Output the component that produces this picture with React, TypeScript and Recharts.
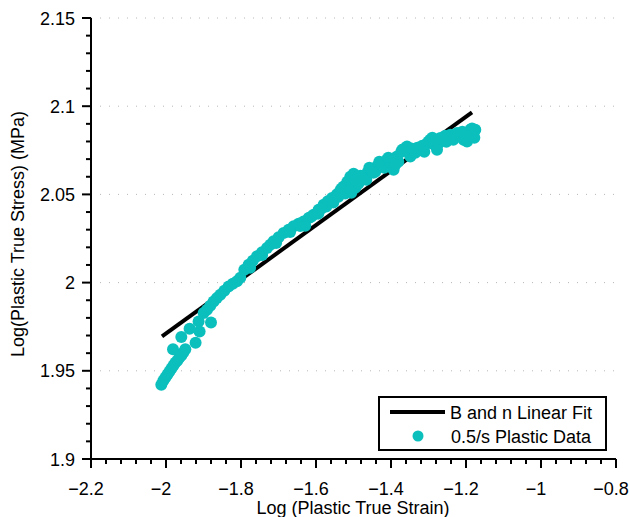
import {
  ComposedChart, Line, Scatter, XAxis, YAxis, ReferenceLine, Legend,
} from 'recharts'

// x = log(plastic true strain), y = log(plastic true stress)
const strainValues = [
  -2.0125, -2.0072, -2.0019, -1.9965, -1.9912, -1.9859, -1.9805, -1.9752, -1.9699, -1.9645,
  -1.9592, -1.9539, -1.9813, -1.9485, -1.9592, -1.9211, -1.9371, -1.9104, -1.88, -1.9131,
  -1.8997, -1.8907, -1.8819, -1.8731, -1.8645, -1.8552, -1.8445, -1.8331, -1.8219, -1.8107,
  -1.8018, -1.7912, -1.7797, -1.7685, -1.7573, -1.744, -1.7307, -1.7219, -1.713, -1.6997,
  -1.6864, -1.6731, -1.6597, -1.6464, -1.6331, -1.6286, -1.6197, -1.6064, -1.5939, -1.5931,
  -1.5797, -1.5725, -1.5685, -1.5573, -1.5539, -1.544, -1.5352, -1.5264, -1.5219, -1.5165,
  -1.5085, -1.4997, -1.5032, -1.5112, -1.5059, -1.4952, -1.4872, -1.4792, -1.4731, -1.4659,
  -1.4632, -1.4525, -1.4419, -1.4373, -1.4259, -1.4179, -1.4107, -1.4019, -1.3931, -1.384,
  -1.3805, -1.3725, -1.3645, -1.3573, -1.3539, -1.3485, -1.3432, -1.3352, -1.3219, -1.3112,
  -1.3085, -1.2952, -1.2845, -1.2773, -1.2685, -1.2552, -1.2525, -1.2419, -1.2339, -1.224,
  -1.2152, -1.2064, -1.1973, -1.1939, -1.1885, -1.184, -1.1797, -1.1778,
  -1.5405, -1.5325, -1.4925, -1.4819, -1.4579, -1.4472, -1.4312, -1.4072, -1.3965, -1.3885,
  -1.3699, -1.3299, -1.3165, -1.3005, -1.2899, -1.2739, -1.2632, -1.2472, -1.2205, -1.2099,
  -1.2019, -1.1832, -1.1752, -1.7757, -1.7437, -1.7064, -1.6691, -1.6421, -1.6128, -1.5859,
]

const stressValues = [
  1.9421, 1.9444, 1.9461, 1.9478, 1.9495, 1.9512, 1.9529, 1.9546, 1.9557, 1.9574,
  1.9586, 1.9603, 1.9622, 1.9622, 1.9692, 1.9659, 1.9739, 1.9723, 1.9774, 1.978,
  1.9828, 1.9846, 1.9869, 1.9893, 1.9912, 1.9931, 1.9954, 1.9978, 1.9994, 2.0007,
  2.0028, 2.0073, 2.0101, 2.0124, 2.0149, 2.0172, 2.0196, 2.0215, 2.0234, 2.0257,
  2.0281, 2.03, 2.0319, 2.0334, 2.0347, 2.0322, 2.0366, 2.0385, 2.0391, 2.0413,
  2.0442, 2.0431, 2.0461, 2.048, 2.0454, 2.0501, 2.0521, 2.0545, 2.0505, 2.0572,
  2.06, 2.0617, 2.0572, 2.0538, 2.051, 2.0538, 2.0561, 2.0583, 2.0606, 2.0583,
  2.0623, 2.0637, 2.0629, 2.0659, 2.0674, 2.0651, 2.0697, 2.0668, 2.064, 2.0715,
  2.0685, 2.0742, 2.0759, 2.0772, 2.0742, 2.0715, 2.0759, 2.0736, 2.0753, 2.0742,
  2.0782, 2.081, 2.0782, 2.0753, 2.082, 2.0833, 2.0799, 2.0838, 2.081, 2.0848,
  2.0844, 2.081, 2.08, 2.0838, 2.0867, 2.0873, 2.0848, 2.0821,
  2.0487, 2.0532, 2.0572, 2.0606, 2.0651, 2.0623, 2.0685, 2.0708, 2.0697, 2.0668,
  2.0753, 2.0765, 2.0776, 2.0799, 2.0821, 2.0787, 2.081, 2.0821, 2.0833, 2.0855,
  2.0833, 2.0833, 2.0867, 2.0084, 2.0157, 2.0225, 2.0287, 2.0321, 2.0373, 2.0419,
]

// B and n linear fit end points
const fitStrain = [-2.0107, -1.184]
const fitStress = [1.9695, 2.0965]

const xMajorTicks = [-2.2, -2, -1.8, -1.6, -1.4, -1.2, -1, -0.8]
const yMajorTicks = [1.9, 1.95, 2, 2.05, 2.1, 2.15]
const gridValues = [1.95, 2, 2.05, 2.1, 2.15]

const TEAL = '#0bbfbd'
const FONT = '"Liberation Sans", Arial, Helvetica, sans-serif'

const plasticData = strainValues.map((x, i) => ({ x, y: stressValues[i] }))
const fitData = fitStrain.map((x, i) => ({ x, y: fitStress[i] }))

// minor ticks: x every 0.04, y every 0.01
const xTicks: number[] = []
for (let i = 0; i <= 35; i++) xTicks.push(Math.round((-2.2 + i * 0.04) * 100) / 100)
const yTicks: number[] = []
for (let i = 0; i <= 25; i++) yTicks.push(Math.round((1.9 + i * 0.01) * 100) / 100)

const isMajor = (v: number, list: number[]) => list.some((m) => Math.abs(m - v) < 1e-6)
const fmt = (v: number) => String(v).replace('-', '\u2212')

const XTick = ({ x, y, payload }: any) => {
  const major = isMajor(payload.value, xMajorTicks)
  return (
    <g>
      <line x1={x} y1={y} x2={x} y2={y + (major ? 9 : 5)} stroke="#000" strokeWidth={2} />
      {major && (
        <text x={x - 5} y={y + 36} textAnchor="middle" fontSize={18} fontFamily={FONT} fill="#000">
          {fmt(payload.value)}
        </text>
      )}
    </g>
  )
}

const YTick = ({ x, y, payload }: any) => {
  const major = isMajor(payload.value, yMajorTicks)
  return (
    <g>
      <line x1={x} y1={y} x2={x - (major ? 9 : 5)} y2={y} stroke="#000" strokeWidth={2} />
      {major && (
        <text x={x - 16} y={y + 6.5} textAnchor="end" fontSize={18} fontFamily={FONT} fill="#000">
          {fmt(payload.value)}
        </text>
      )}
    </g>
  )
}

const Dot = (props: any) => <circle cx={props.cx} cy={props.cy} r={6} fill={TEAL} />

const LegendBox = () => (
  <div
    style={{
      position: 'relative', width: 229, height: 55, boxSizing: 'border-box',
      border: '2px solid #000', background: '#fff', fontFamily: FONT, fontSize: 18, color: '#000',
    }}
  >
    <svg width={225} height={51} style={{ position: 'absolute', left: 0, top: 0 }}>
      <line x1={10} y1={14} x2={65} y2={14} stroke="#000" strokeWidth={4} />
      <circle cx={38} cy={38} r={5.5} fill={TEAL} />
      <text x={70} y={20.5} fontSize={18} fontFamily={FONT}>B and n Linear Fit</text>
      <text x={71} y={44.5} fontSize={18} fontFamily={FONT}>0.5/s Plastic Data</text>
    </svg>
  </div>
)

export default function App() {
  return (
    <div style={{ position: 'absolute', left: 0, top: 0, width: 630, height: 517, background: '#fff' }}>
      <ComposedChart width={630} height={517} margin={{ top: 18, right: 14, left: 0, bottom: 0 }}>
        <XAxis
          type="number"
          dataKey="x"
          domain={[-2.2, -0.8]}
          ticks={xTicks}
          interval={0}
          tickSize={0}
          tickMargin={0}
          tickLine={false}
          tick={<XTick />}
          height={58}
          axisLine={{ stroke: '#000', strokeWidth: 2 }}
          label={() => (
            <text x={353} y={514} textAnchor="middle" fontSize={18} fontFamily={FONT} fill="#000">
              Log (Plastic True Strain)
            </text>
          )}
        />
        <YAxis
          type="number"
          dataKey="y"
          domain={[1.9, 2.15]}
          ticks={yTicks}
          interval={0}
          tickSize={0}
          tickMargin={0}
          tickLine={false}
          tick={<YTick />}
          width={91}
          axisLine={{ stroke: '#000', strokeWidth: 2 }}
          label={() => (
            <text
              x={24}
              y={234}
              transform="rotate(-90 24 234)"
              textAnchor="middle"
              fontSize={18}
              fontFamily={FONT}
              fill="#000"
            >
              Log(Plastic True Stress) (MPa)
            </text>
          )}
        />
        {gridValues.map((v) => (
          <ReferenceLine key={v} y={v} stroke="#b8b8b8" strokeDasharray="1 8" />
        ))}
        <Line
          data={fitData}
          dataKey="y"
          type="linear"
          stroke="#000"
          strokeWidth={4}
          dot={false}
          activeDot={false}
          isAnimationActive={false}
        />
        <Scatter data={plasticData} dataKey="y" fill={TEAL} shape={<Dot />} isAnimationActive={false} />
        <Legend
          layout="horizontal"
          verticalAlign="middle"
          align="center"
          content={() => <LegendBox />}
          wrapperStyle={{ left: 378, top: 396, width: 229, height: 55 }}
        />
      </ComposedChart>
    </div>
  )
}
